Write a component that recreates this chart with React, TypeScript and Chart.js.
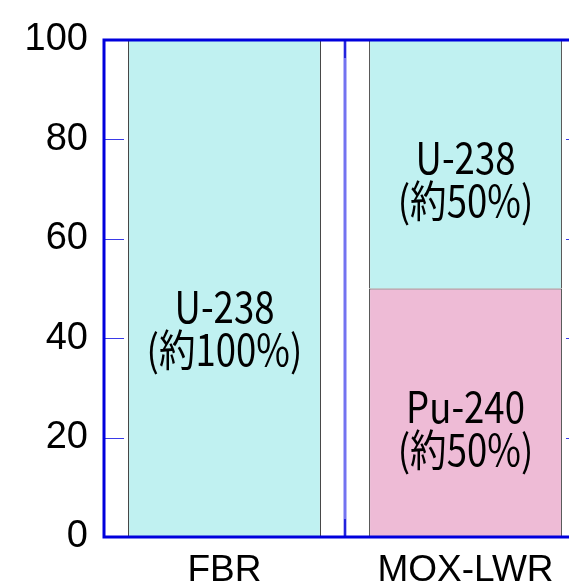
import React, { useEffect, useRef } from "react";
import { Chart, registerables } from "chart.js";

Chart.register(...registerables);

const categories = ["FBR", "MOX-LWR"];
const pu240Values = [null, 50];
const u238Values = [100, 50];
const u238Labels = [["U-238", "(約100%)"], ["U-238", "(約50%)"]];
const pu240Labels = [null, ["Pu-240", "(約50%)"]];
const u238LabelAt = [42, 72];
const pu240LabelAt = [null, 22];
const yMin = 0;
const yMax = 100;
const yStep = 20;

const FRAME = "#0000dd";

const framePlugin = {
  id: "frame",
  afterDatasetsDraw(chart: any) {
    const { ctx, chartArea: a, scales } = chart;
    const y = scales.y;
    const x = scales.x;
    ctx.save();
    // category divider line
    for (let i = 1; i < categories.length; i++) {
      const px = (x.getPixelForValue(i - 1) + x.getPixelForValue(i)) / 2;
      ctx.strokeStyle = "rgba(100,100,240,0.9)";
      ctx.lineWidth = 3;
      ctx.beginPath();
      ctx.moveTo(px, a.top);
      ctx.lineTo(px, a.bottom);
      ctx.stroke();
      ctx.strokeStyle = "#2222dd";
      ctx.lineWidth = 2;
      ctx.beginPath();
      ctx.moveTo(px, a.top);
      ctx.lineTo(px, a.top + 18);
      ctx.moveTo(px, a.bottom);
      ctx.lineTo(px, a.bottom - 18);
      ctx.stroke();
    }
    // y ticks inward on both sides
    ctx.strokeStyle = "#3a3ae8";
    ctx.lineWidth = 1;
    for (let v = yMin + yStep; v < yMax; v += yStep) {
      const py = Math.round(y.getPixelForValue(v)) + 0.5;
      ctx.beginPath();
      ctx.moveTo(a.left, py);
      ctx.lineTo(a.left + 20, py);
      ctx.moveTo(a.right - 20, py);
      ctx.lineTo(a.right, py);
      ctx.stroke();
    }
    ctx.strokeStyle = FRAME;
    ctx.lineWidth = 3;
    ctx.strokeRect(a.left, a.top, a.right - a.left, a.bottom - a.top);
    ctx.restore();
  },
};

const labelPlugin = {
  id: "segLabels",
  afterDraw(chart: any) {
    const { ctx, scales } = chart;
    const sets = [
      { labels: pu240Labels, at: pu240LabelAt, ds: 0 },
      { labels: u238Labels, at: u238LabelAt, ds: 1 },
    ];
    ctx.save();
    ctx.fillStyle = "#000";
    ctx.font = '43px "Noto Sans CJK JP"';
    ctx.textAlign = "center";
    ctx.textBaseline = "middle";
    for (const s of sets) {
      const meta = chart.getDatasetMeta(s.ds);
      s.labels.forEach((lines: any, i: number) => {
        if (!lines) return;
        const el = meta.data[i];
        const cx = el.x;
        const cy = scales.y.getPixelForValue(s.at[i] as number);
        const gap = 43;
        lines.forEach((t: string, k: number) => {
          const ly = cy + (k - (lines.length - 1) / 2) * gap;
          ctx.save();
          ctx.translate(cx, ly);
          ctx.scale(0.85, 1);
          ctx.fillText(t, 0, 0);
          ctx.restore();
        });
      });
    }
    ctx.restore();
  },
};

export default function App() {
  const ref = useRef<HTMLCanvasElement>(null);
  useEffect(() => {
    const chart = new Chart(ref.current as HTMLCanvasElement, {
      type: "bar",
      data: {
        labels: categories,
        datasets: [
          {
            label: "Pu-240",
            data: pu240Values as any,
            backgroundColor: "#EEBBD6",
            borderColor: "#333333",
            borderWidth: 1,
            barPercentage: 0.8,
            categoryPercentage: 1,
          },
          {
            label: "U-238",
            data: u238Values,
            backgroundColor: "#C0F1F1",
            borderColor: "#333333",
            borderWidth: 1,
            barPercentage: 0.8,
            categoryPercentage: 1,
          },
        ],
      },
      options: {
        responsive: false,
        animation: false,
        layout: { padding: { top: 40, right: 14, left: 0, bottom: 0 } },
        plugins: { legend: { display: false }, tooltip: { enabled: false } },
        scales: {
          x: {
            stacked: true,
            offset: true,
            grid: { display: false, drawTicks: false },
            border: { display: false },
            ticks: {
              color: "#000",
              padding: 12,
              font: { family: "Liberation Sans", size: 37 },
            },
            afterFit(s: any) {
              s.height = 47;
            },
          },
          y: {
            stacked: true,
            min: yMin,
            max: yMax,
            grid: { display: false, drawTicks: false },
            border: { display: false },
            ticks: {
              stepSize: yStep,
              color: "#000",
              padding: 16,
              font: { family: "Liberation Sans", size: 38 },
            },
            afterFit(s: any) {
              s.width = 104;
            },
          },
        },
      },
      plugins: [framePlugin, labelPlugin],
    });
    return () => chart.destroy();
  }, []);
  return (
    <div
      style={{
        position: "fixed",
        left: 0,
        top: 0,
        width: 569,
        height: 584,
        overflow: "hidden",
        background: "#fff",
      }}
    >
      <canvas ref={ref} width={600} height={584} style={{ display: "block" }} />
    </div>
  );
}
